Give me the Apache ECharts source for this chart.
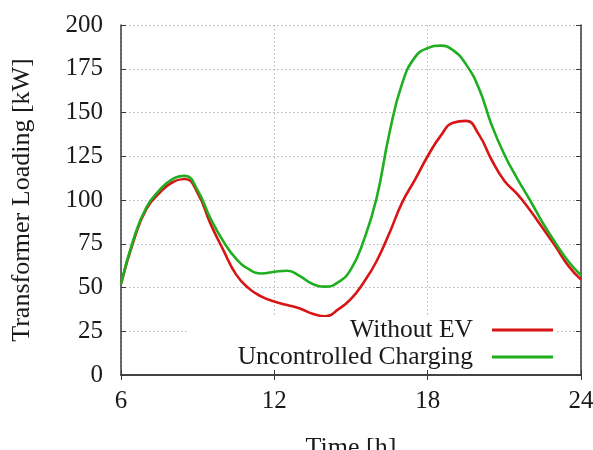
<!DOCTYPE html>
<html>
<head>
<meta charset="utf-8">
<script src="https://cdn.jsdelivr.net/npm/echarts@6/dist/echarts.min.js"></script>
<style>
html,body{margin:0;padding:0;background:#fff;}
#main{width:593px;height:450px;}
</style>
</head>
<body>
<div id="main"></div>
<script>
var hours = [6, 6.5, 7, 7.5, 8, 8.5, 9, 9.5, 10, 10.5, 11, 11.5, 12, 12.5, 13, 13.5, 14, 14.5, 15, 15.5, 16, 16.5, 17, 17.5, 18, 18.5, 19, 19.5, 20, 20.5, 21, 21.5, 22, 22.5, 23, 23.5, 24];
var withoutEV = [52, 77, 95, 104, 110, 112, 104, 86.5, 71.5, 57.5, 49.5, 44.8, 42, 40, 38, 35, 33.5, 37.5, 43.5, 53, 65, 81, 98.5, 111.5, 125, 136.5, 144.2, 145.2, 137.5, 123, 111, 103.5, 94.3, 84, 73.5, 62.5, 54.5];
var uncontrolled = [52, 78, 96, 105.5, 111.8, 113.8, 105.5, 89.5, 76.5, 66.5, 60.5, 58, 59, 59.6, 56.5, 52, 50.5, 53, 60.5, 77, 101, 138, 166.5, 181.5, 186.8, 188.2, 185.5, 177.5, 164, 143, 126, 112.4, 100, 87, 75.5, 65, 57];
var seriesNames = ['Without EV', 'Uncontrolled Charging'];
var xTitle = 'Time [h]';
var yTitle = 'Transformer Loading [kW]';

function pairs(xs, ys) { return xs.map(function (x, i) { return [x, ys[i]]; }); }

var FONT = "'Liberation Serif', 'Times New Roman', serif";
var AXIS_COLOR = '#3a3a3a';
var TEXT = '#1a1a1a';
var chart = echarts.init(document.getElementById('main'), null, {renderer: 'canvas'});
var gridLine = {show: true, lineStyle: {color: '#b4b4b4', type: [1.5, 2.5], width: 1}};
var option = {
  animation: false,
  backgroundColor: '#fff',
  grid: {left: 121, right: 12, top: 25, bottom: 75, containLabel: false, outerBoundsMode: 'none'},
  legend: {
    orient: 'vertical',
    align: 'right',
    right: 38,
    top: 317,
    padding: [0, 2, 0, 51],
    itemGap: 1,
    itemWidth: 61,
    itemHeight: 3,
    icon: 'rect',
    backgroundColor: '#ffffff',
    formatter: function (name) { return '{t|' + name + '}'; },
    textStyle: {
      fontFamily: FONT, fontSize: 25.5, color: TEXT, lineHeight: 20,
      rich: {t: {fontFamily: FONT, fontSize: 25.5, color: TEXT, lineHeight: 20, padding: [0, 14, 0, 0]}}
    },
    data: seriesNames
  },
  xAxis: [{
    type: 'value', min: 6, max: 24, interval: 6,
    name: xTitle, nameLocation: 'middle', nameGap: 60,
    nameTextStyle: {fontFamily: FONT, fontSize: 26, color: TEXT},
    axisLine: {show: true, lineStyle: {color: AXIS_COLOR, width: 1.5}},
    axisTick: {show: true, inside: true, length: 5, lineStyle: {color: AXIS_COLOR}},
    axisLabel: {fontFamily: FONT, fontSize: 25, color: TEXT, margin: 14},
    splitLine: gridLine
  }, {
    type: 'value', min: 6, max: 24, interval: 6, position: 'top',
    axisLine: {show: true, lineStyle: {color: AXIS_COLOR, width: 1.5}},
    axisTick: {show: true, inside: true, length: 5, lineStyle: {color: AXIS_COLOR}},
    axisLabel: {show: false},
    splitLine: {show: false}
  }],
  yAxis: [{
    type: 'value', min: 0, max: 200, interval: 25,
    name: yTitle, nameLocation: 'middle', nameGap: 86, nameRotate: 90,
    nameTextStyle: {fontFamily: FONT, fontSize: 26, color: TEXT},
    axisLine: {show: true, lineStyle: {color: AXIS_COLOR, width: 1.5}},
    axisTick: {show: true, inside: true, length: 5, lineStyle: {color: AXIS_COLOR}},
    axisLabel: {fontFamily: FONT, fontSize: 25, color: TEXT, margin: 18},
    splitLine: gridLine
  }, {
    type: 'value', min: 0, max: 200, interval: 25, position: 'right',
    axisLine: {show: true, lineStyle: {color: AXIS_COLOR, width: 1.5}},
    axisTick: {show: true, inside: true, length: 5, lineStyle: {color: AXIS_COLOR}},
    axisLabel: {show: false},
    splitLine: {show: false}
  }],
  series: [{
    name: seriesNames[0], type: 'line', smooth: 0.5, symbol: 'none',
    data: pairs(hours, withoutEV),
    lineStyle: {color: '#d81414', width: 2.6},
    itemStyle: {color: '#d81414'}
  }, {
    name: seriesNames[1], type: 'line', smooth: 0.5, symbol: 'none',
    data: pairs(hours, uncontrolled),
    lineStyle: {color: '#1fae1f', width: 2.6},
    itemStyle: {color: '#1fae1f'}
  }]
};
chart.setOption(option);
</script>
</body>
</html>
